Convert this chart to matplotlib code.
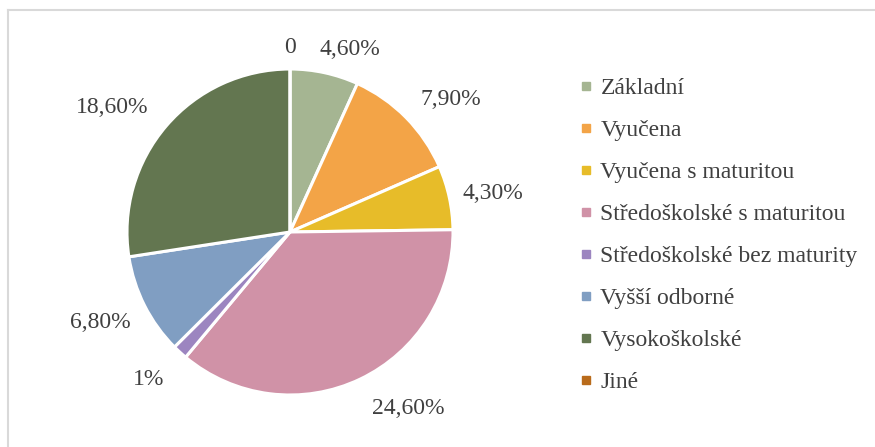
import matplotlib
matplotlib.use("Agg")
import matplotlib.pyplot as plt
import numpy as np
from matplotlib.lines import Line2D

# education categories and their shares (in %)
categories = [
    "Základní",
    "Vyučena",
    "Vyučena s maturitou",
    "Středoškolské s maturitou",
    "Středoškolské bez maturity",
    "Vyšší odborné",
    "Vysokoškolské",
    "Jiné",
]
shares = [4.6, 7.9, 4.3, 24.6, 1.0, 6.8, 18.6, 0.0]
share_labels = ["4,60%", "7,90%", "4,30%", "24,60%", "1%", "6,80%", "18,60%", "0"]
colors = ["#A5B592", "#F3A447", "#E7BC29", "#D092A7", "#9C85C0", "#809EC2", "#637650", "#B96B1B"]

TEXT_COLOR = "#404040"
FONT = ["Liberation Serif", "DejaVu Serif"]
FS = 17

plt.rcParams["font.family"] = FONT

W, H = 875, 447
fig = plt.figure(figsize=(W / 100, H / 100), dpi=100)

# pie centre at ~ (290, 232) px, radius ~163 px
cx, cy, r = 290, 232, 163
ax = fig.add_axes([(cx - r) / W, (H - cy - r) / H, 2 * r / W, 2 * r / H])

wedges, texts = ax.pie(
    shares,
    labels=share_labels,
    colors=colors,
    startangle=90,
    counterclock=False,
    labeldistance=1.2,
    wedgeprops={"edgecolor": "white", "linewidth": 2.2},
    textprops={"fontsize": FS, "color": TEXT_COLOR},
)
ax.set_xlim(-1, 1)
ax.set_ylim(-1, 1)
ax.set_aspect("auto")

# put each label just outside the pie, box edge a fixed gap from the rim,
# then a small pixel nudge (Excel "best fit" placement)
gap = 16
nudge_px = [(18, -9), (13, -14), (-3, -6), (30, 8), (-8, -2), (-2, 5), (-16, -14), (0, -5)]
fig.canvas.draw()
renderer = fig.canvas.get_renderer()
for w, t, (nx, ny) in zip(wedges, texts, nudge_px):
    t.set_horizontalalignment("center")
    t.set_verticalalignment("center")
    bb = t.get_window_extent(renderer)
    ang = np.deg2rad((w.theta1 + w.theta2) / 2)
    ux, uy = np.cos(ang), np.sin(ang)
    support = abs(ux) * bb.width / 2 + abs(uy) * bb.height / 2
    d = r + gap + support
    t.set_position(((d * ux + nx) / r, (d * uy + ny) / r))

handles = [
    Line2D([], [], marker="s", linestyle="none", markersize=5.5, markerfacecolor=c, markeredgecolor=c)
    for c in colors
]
fig.legend(
    handles,
    categories,
    loc="upper left",
    bbox_to_anchor=(569 / W, 1 - 68 / H),
    frameon=False,
    fontsize=FS,
    labelcolor=TEXT_COLOR,
    labelspacing=0.87,
    handlelength=0.6,
    handletextpad=0.33,
    borderaxespad=0,
)

# light frame edge (top and left) as in the source
fig.add_artist(Line2D([8 / W, 1], [1 - 10 / H, 1 - 10 / H], color="#D9D9D9", linewidth=1.5))
fig.add_artist(Line2D([8 / W, 8 / W], [0, 1 - 10 / H], color="#D9D9D9", linewidth=1.5))

fig.savefig("out.png", dpi=100)
